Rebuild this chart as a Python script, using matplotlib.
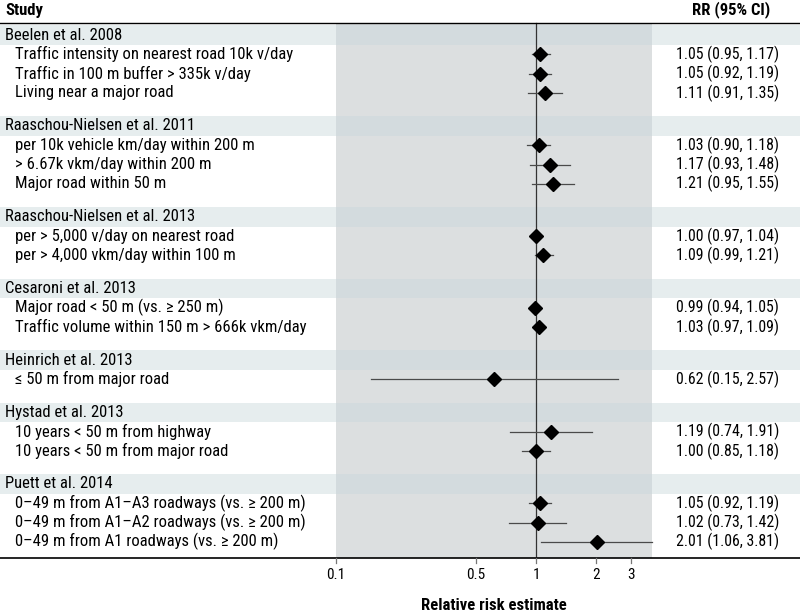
import numpy as np
import matplotlib
matplotlib.use("Agg")
import matplotlib.pyplot as plt
from matplotlib import font_manager as fm

# pick a condensed face close to Univers Condensed
installed = {f.name for f in fm.fontManager.ttflist}
candidates = ["Roboto Condensed", "Archivo Narrow", "PT Sans Narrow", "Fira Sans Condensed",
              "IBM Plex Sans Condensed", "Asap Condensed", "Liberation Sans Narrow", "Liberation Sans"]
face = next(c for c in candidates if c in installed)
plt.rcParams['font.family'] = [face, 'DejaVu Sans']

# data
studies = ["Beelen et al. 2008", "Raaschou-Nielsen et al. 2011", "Raaschou-Nielsen et al. 2013",
           "Cesaroni et al. 2013", "Heinrich et al. 2013", "Hystad et al. 2013", "Puett et al. 2014"]
labels = [
    ["Traffic intensity on nearest road 10k v/day", "Traffic in 100 m buffer > 335k v/day",
     "Living near a major road"],
    ["per 10k vehicle km/day within 200 m", "> 6.67k vkm/day within 200 m", "Major road within 50 m"],
    ["per > 5,000 v/day on nearest road", "per > 4,000 vkm/day within 100 m"],
    ["Major road < 50 m (vs. \u2265 250 m)", "Traffic volume within 150 m > 666k vkm/day"],
    ["\u2264 50 m from major road"],
    ["10 years < 50 m from highway", "10 years < 50 m from major road"],
    ["0\u201349 m from A1\u2013A3 roadways (vs. \u2265 200 m)",
     "0\u201349 m from A1\u2013A2 roadways (vs. \u2265 200 m)",
     "0\u201349 m from A1 roadways (vs. \u2265 200 m)"],
]
rr = [[1.05, 1.05, 1.11], [1.03, 1.17, 1.21], [1.00, 1.09], [0.99, 1.03], [0.62], [1.19, 1.00],
      [1.05, 1.02, 2.01]]
lo = [[0.95, 0.92, 0.91], [0.90, 0.93, 0.95], [0.97, 0.99], [0.94, 0.97], [0.15], [0.74, 0.85],
      [0.92, 0.73, 1.06]]
hi = [[1.17, 1.19, 1.35], [1.18, 1.48, 1.55], [1.04, 1.21], [1.05, 1.09], [2.57], [1.91, 1.18],
      [1.19, 1.42, 3.81]]
ticks = [0.1, 0.5, 1, 2, 3]

W, H = 800, 614
fig = plt.figure(figsize=(W / 100, H / 100), dpi=100)
ax = fig.add_axes([0, 0, 1, 1])
ax.set_xscale("log")
# 0.1 at x=336 px, 1 at x=536 px
decade = 200.0
x_one = 536.0
ax.set_xlim(10 ** (-x_one / decade), 10 ** ((W - x_one) / decade))
ax.set_ylim(H, 0)
ax.axis("off")

tr = ax.get_yaxis_transform()  # x in axes fraction, y in data (pixels)

band_col = (201 / 255, 216 / 255, 220 / 255)
grey_col = "#dcdfe0"
top_y, axis_y = 23, 558
x_lo, x_hi = 0.1, max(max(h) for h in hi)
fs = 12

ax.fill_between([x_lo, x_hi], top_y, axis_y, color=grey_col, lw=0, zorder=0)

step, gap = 19.3, 33.0
y = 35.0
for s, study in enumerate(studies):
    ax.axhspan(y - 9.8, y + 9.8, color=band_col, alpha=0.46, lw=0, zorder=1)
    ax.text(5 / W, y, study, transform=tr, fontsize=fs, va="center", ha="left", zorder=5)
    for i, lab in enumerate(labels[s]):
        y += step
        ax.text(15 / W, y, lab, transform=tr, fontsize=fs, va="center", ha="left", zorder=5)
        ax.plot([lo[s][i], hi[s][i]], [y, y], color="#4a4a4a", lw=0.9, zorder=3)
        ax.plot(rr[s][i], y, marker="D", ms=7, color="black", zorder=4)
        ax.text(779 / W, y, f"{rr[s][i]:.2f} ({lo[s][i]:.2f}, {hi[s][i]:.2f})", transform=tr,
                fontsize=11.4, va="center", ha="right", zorder=5)
    y += gap

# reference line at 1
ax.plot([1, 1], [top_y, axis_y], color="#333333", lw=0.9, zorder=2)

# header
ax.text(5 / W, 10, "Study", transform=tr, fontsize=fs, fontweight="bold", va="center", ha="left")
ax.text(731 / W, 10, "RR (95% CI)", transform=tr, fontsize=fs, fontweight="bold", va="center",
        ha="center")
ax.plot([0, 1], [top_y, top_y], transform=tr, color="black", lw=1.0, zorder=5)

# x axis
ax.plot([0, 1], [axis_y, axis_y], transform=tr, color="black", lw=1.2, zorder=5)
for t in ticks:
    ax.plot([t, t], [axis_y, axis_y + 5], color="#777777", lw=0.9, zorder=5)
    ax.text(t, 575, f"{t:g}", fontsize=11, ha="center", va="center")
ax.text(np.sqrt(x_lo * x_hi), 605, "Relative risk estimate", fontsize=fs, fontweight="bold",
        ha="center", va="center")

fig.savefig("out.png", dpi=100)
